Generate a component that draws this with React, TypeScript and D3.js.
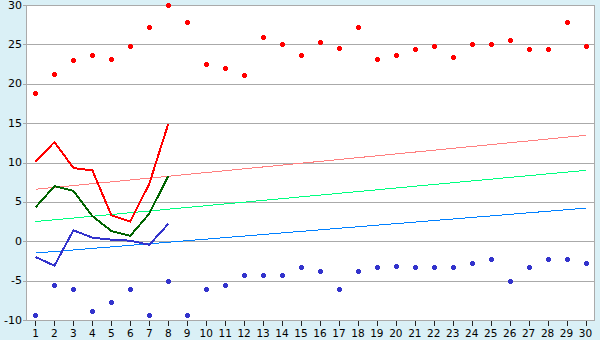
import React from 'react';
import * as d3 from 'd3';

const days = d3.range(1, 31).map(String);
const maxPoints = [18.8, 21.2, 23.0, 23.6, 23.1, 24.75, 27.2, 30.0, 27.8, 22.5, 22.0, 21.1, 25.9, 25.0, 23.7, 25.3, 24.5, 27.2, 23.2, 23.6, 24.4, 24.75, 23.35, 25.1, 25.1, 25.6, 24.4, 24.4, 27.8, 24.75];
const minPoints = [-9.4, -5.6, -6.1, -8.9, -7.75, -6.1, -9.4, -5.0, -9.4, -6.1, -5.6, -4.3, -4.3, -4.3, -3.3, -3.8, -6.1, -3.8, -3.3, -3.2, -3.3, -3.3, -3.3, -2.7, -2.2, -5.0, -3.3, -2.3, -2.2, -2.8];
const maxLine = [10.1, 12.6, 9.3, 9.0, 3.3, 2.5, 7.3, 14.9];
const meanLine = [4.3, 7.0, 6.4, 3.2, 1.3, 0.7, 3.5, 8.3];
const minLine = [-2.0, -3.1, 1.4, 0.45, 0.2, 0.07, -0.45, 2.2];
const trendDays = ['1', '30'];
const maxTrend = [6.6, 13.45];
const meanTrend = [2.5, 9.0];
const minTrend = [-1.5, 4.2];
const yTicks = [-10, -5, 0, 5, 10, 15, 20, 25, 30];

const W = 600, H = 340;
const L = 26, R = 595, T = 5, B = 320;

export default function App() {
  const x = d3.scaleBand<string>().domain(days).range([L, R]).padding(0);
  const cx = (d: string) => (x(d) as number) + x.bandwidth() / 2;
  const y = d3.scaleLinear().domain([-10, 30]).range([B, T]);
  const line = d3.line<[string, number]>().x(d => cx(d[0])).y(d => y(d[1]));
  const pairs = (vals: number[], ds: string[]) => vals.map((v, i) => [ds[i], v] as [string, number]);
  const marker = 'M-1.5,-2.5h3v1h1v3h-1v1h-3v-1h-1v-3h1z';
  const font = '"DejaVu Sans", Verdana, sans-serif';

  return (
    <svg width={W} height={H} style={{ position: 'absolute', left: 0, top: 0 }}>
      <rect x={0} y={0} width={W} height={H} fill="#daf0f6" />
      <rect x={L} y={T} width={R - L} height={B - T} fill="#ffffff" />
      {yTicks.map(t => (
        <g key={t}>
          <line x1={L - 3} x2={R} y1={Math.round(y(t)) + 0.5} y2={Math.round(y(t)) + 0.5} stroke="#aaaaaa" strokeWidth={1} />
          <text x={22} y={y(t)} textAnchor="end" dominantBaseline="central" fontFamily={font} fontSize={11} fill="#000">{t}</text>
        </g>
      ))}
      <rect x={L + 0.5} y={T + 0.5} width={R - L - 1} height={B - T} fill="none" stroke="#aaaaaa" strokeWidth={1} />
      {days.map(d => (
        <g key={d}>
          <line x1={Math.round(cx(d)) + 0.5} x2={Math.round(cx(d)) + 0.5} y1={B + 1} y2={B + 6} stroke="#222" strokeWidth={1} />
          <text x={cx(d)} y={337} textAnchor="middle" fontFamily={font} fontSize={10.5} fill="#000">{d}</text>
        </g>
      ))}
      <path d={line(pairs(maxTrend, trendDays)) || ''} fill="none" stroke="#ff8080" strokeWidth={1} shapeRendering="crispEdges" />
      <path d={line(pairs(meanTrend, trendDays)) || ''} fill="none" stroke="#00ff80" strokeWidth={1} shapeRendering="crispEdges" />
      <path d={line(pairs(minTrend, trendDays)) || ''} fill="none" stroke="#0080ff" strokeWidth={1} shapeRendering="crispEdges" />
      <path d={line(pairs(maxLine, days)) || ''} fill="none" stroke="#ff0000" strokeWidth={2} shapeRendering="crispEdges" />
      <path d={line(pairs(meanLine, days)) || ''} fill="none" stroke="#006400" strokeWidth={2} shapeRendering="crispEdges" />
      <path d={line(pairs(minLine, days)) || ''} fill="none" stroke="#3333cc" strokeWidth={2} shapeRendering="crispEdges" />
      {maxPoints.map((v, i) => (
        <path key={'mx' + i} d={marker} transform={`translate(${Math.round(cx(days[i])) + 0.5},${Math.round(y(v)) + 0.5})`} fill="#ff0000" shapeRendering="crispEdges" />
      ))}
      {minPoints.map((v, i) => (
        <path key={'mn' + i} d={marker} transform={`translate(${Math.round(cx(days[i])) + 0.5},${Math.round(y(v)) + 0.5})`} fill="#3333cc" shapeRendering="crispEdges" />
      ))}
    </svg>
  );
}
